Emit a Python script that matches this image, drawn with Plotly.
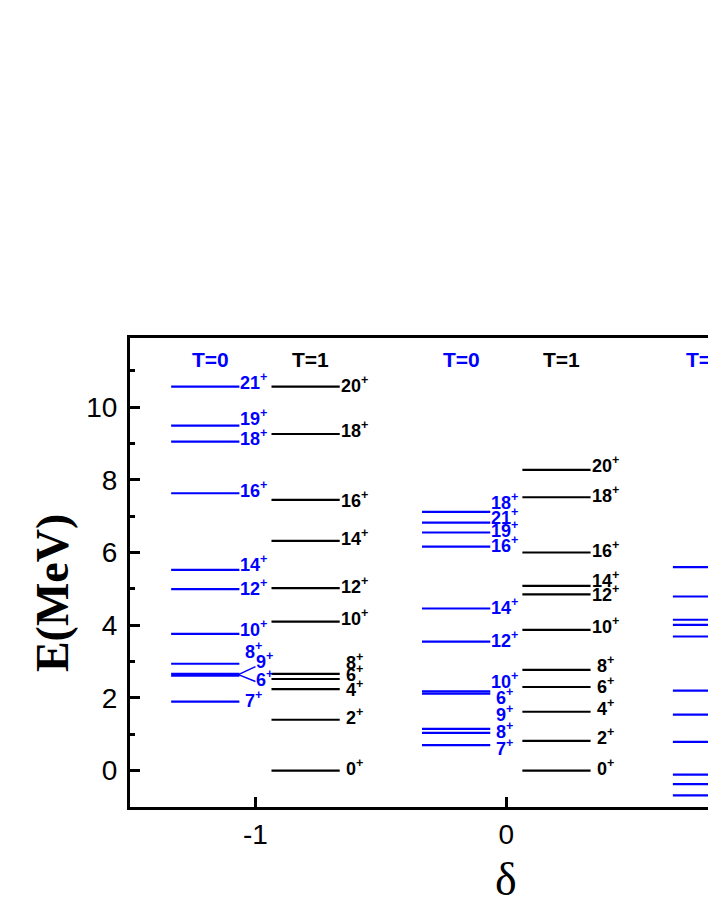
import plotly.graph_objects as go

# level schemes, energies in MeV
delta_pos = [-1, 0, 1]

spins_t0_a = ['21', '19', '18', '16', '14', '12', '10', '8', '9', '6', '7']
energy_t0_a = [10.56, 9.49, 9.05, 7.63, 5.52, 4.99, 3.76, 2.94, 2.66, 2.61, 1.90]
label_y_t0_a = [10.69, 9.70, 9.15, 7.72, 5.70, 5.05, 3.90, 3.30, 3.02, 2.53, 1.95]

spins_t1_a = ['20', '18', '16', '14', '12', '10', '8', '6', '4', '2', '0']
energy_t1_a = [10.56, 9.26, 7.45, 6.32, 5.02, 4.10, 2.66, 2.52, 2.24, 1.40, 0.0]
label_y_t1_a = [10.63, 9.39, 7.45, 6.42, 5.10, 4.22, 3.01, 2.66, 2.26, 1.48, 0.10]

spins_t0_b = ['18', '21', '19', '16', '14', '12', '10', '6', '9', '8', '7']
energy_t0_b = [7.12, 6.82, 6.55, 6.16, 4.46, 3.55, 2.18, 2.12, 1.15, 1.04, 0.70]
label_y_t0_b = [7.39, 6.98, 6.64, 6.21, 4.52, 3.61, 2.49, 2.04, 1.57, 1.11, 0.64]

spins_t1_b = ['20', '18', '16', '14', '12', '10', '8', '6', '4', '2', '0']
energy_t1_b = [8.27, 7.52, 6.00, 5.08, 4.85, 3.87, 2.77, 2.30, 1.62, 0.82, 0.0]
label_y_t1_b = [8.41, 7.60, 6.08, 5.27, 4.87, 3.98, 2.93, 2.34, 1.74, 0.93, 0.10]

energy_t0_c = [5.60, 4.79, 4.15, 4.01, 3.69, 2.20, 1.54, 0.79, -0.11, -0.37, -0.68]

BLUE = '#0000ff'
BLACK = '#000000'
SANS = 'Arial, Liberation Sans, sans-serif'
SERIF = 'Times New Roman, Liberation Serif, serif'

# horizontal extent of the level bars relative to delta
t0_span = (-0.336, -0.064)
t1_span = (0.064, 0.336)


def level_trace(d, span, energies, color):
    xs, ys = [], []
    for e in energies:
        xs += [d + span[0], d + span[1], None]
        ys += [e, e, None]
    return go.Scatter(x=xs, y=ys, mode='lines', line=dict(color=color, width=2.2),
                      hoverinfo='skip', showlegend=False)


def level_labels(d, span, spins, label_y, color, shift=None):
    anns = []
    for s, y in zip(spins, label_y):
        dx = shift.get(s, 0) if shift else 0
        anns.append(dict(x=d + span[1] + 0.058 + dx, y=y, xref='x', yref='y',
                         text=f'{s}<sup>+</sup>', showarrow=False,
                         xanchor='center', yanchor='middle',
                         font=dict(family=SANS, size=18, color=color, weight='bold')))
    return anns


fig = go.Figure()
fig.add_trace(level_trace(delta_pos[0], t0_span, energy_t0_a, BLUE))
fig.add_trace(level_trace(delta_pos[0], t1_span, energy_t1_a, BLACK))
fig.add_trace(level_trace(delta_pos[1], t0_span, energy_t0_b, BLUE))
fig.add_trace(level_trace(delta_pos[1], t1_span, energy_t1_b, BLACK))
fig.add_trace(level_trace(delta_pos[2], t0_span, energy_t0_c, BLUE))

annotations = []
annotations += level_labels(delta_pos[0], t0_span, spins_t0_a, label_y_t0_a, BLUE,
                            shift={'9': 0.044, '6': 0.044})
annotations += level_labels(delta_pos[0], t1_span, spins_t1_a, label_y_t1_a, BLACK)
annotations += level_labels(delta_pos[1], t0_span, spins_t0_b, label_y_t0_b, BLUE)
annotations += level_labels(delta_pos[1], t1_span, spins_t1_b, label_y_t1_b, BLACK)

# isospin headers
for d in delta_pos[:2]:
    annotations.append(dict(x=d - 0.18, y=11.3, text='T=0', showarrow=False,
                            font=dict(family=SANS, size=21, color=BLUE, weight='bold')))
    annotations.append(dict(x=d + 0.22, y=11.3, text='T=1', showarrow=False,
                            font=dict(family=SANS, size=21, color=BLACK, weight='bold')))
annotations.append(dict(x=delta_pos[2] - 0.29, y=11.3, text='T=0', showarrow=False,
                        xanchor='left',
                        font=dict(family=SANS, size=21, color=BLUE, weight='bold')))

# axis titles
annotations.append(dict(x=0, y=-0.155, xref='x', yref='paper', text='δ', showarrow=False,
                        xanchor='center', yanchor='middle',
                        font=dict(family=SERIF, size=46, color=BLACK)))
annotations.append(dict(x=-0.135, y=0.456, xref='paper', yref='paper', text='<b>E(MeV)</b>',
                        textangle=-90, showarrow=False, xanchor='center', yanchor='middle',
                        font=dict(family=SERIF, size=46, color=BLACK)))

# bracket pointing from the near-degenerate 9+/6+ pair to their labels
for y_end in [2.86, 2.45]:
    fig.add_shape(type='line', x0=-1.068, y0=2.64, x1=-1.0, y1=y_end,
                  line=dict(color=BLUE, width=1.5))

fig.update_layout(
    width=708, height=917,
    margin=dict(l=130, r=0, t=338, b=110),
    plot_bgcolor='white', paper_bgcolor='white',
    annotations=annotations,
    xaxis=dict(range=[-1.5, 0.804], tickvals=[-1, 0], ticktext=['-1', '0'],
               showline=True, linecolor='black', linewidth=3, mirror=True,
               ticks='inside', ticklen=10, tickwidth=2.5, tickcolor='black',
               showgrid=False, zeroline=False, ticklabelstandoff=0,
               tickfont=dict(family=SANS, size=28, color='black')),
    yaxis=dict(range=[-1, 11.9], dtick=2, tick0=0,
               showline=True, linecolor='black', linewidth=3, mirror=False,
               ticks='inside', ticklen=10, tickwidth=2.5, tickcolor='black',
               minor=dict(dtick=1, ticks='inside', ticklen=5, tickwidth=2.5, tickcolor='black'),
               showgrid=False, zeroline=False, ticklabelstandoff=4,
               tickfont=dict(family=SANS, size=28, color='black')),
)

# drop the browser's default body margin so the figure fills the window exactly
fig.write_html("out.html", config={'displayModeBar': False},
               post_script="document.body.style.margin='0';")
